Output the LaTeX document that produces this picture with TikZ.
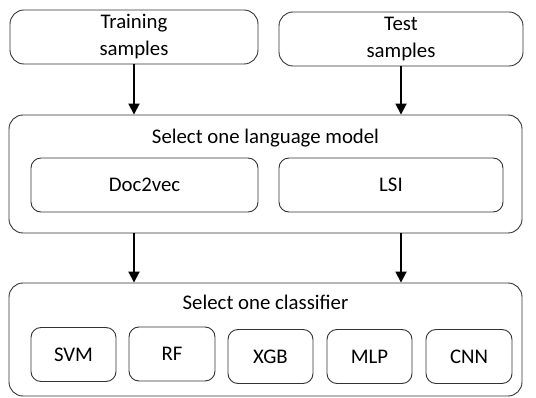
\documentclass[tikz,border=0pt]{standalone}
\usepackage{fontspec}
\setmainfont{Carlito}
\usetikzlibrary{arrows.meta,positioning}

\begin{document}
\begin{tikzpicture}[
  x=1pt,y=-1pt,
  font=\fontsize{20.8}{27}\selectfont,
  line width=0.9pt,
  bigbox/.style={draw=black!80,rounded corners=14pt,inner sep=0pt},
  smallbox/.style={draw=black!80,rounded corners=10pt,inner sep=0pt,minimum height=54pt},
  flow/.style={draw=black,line width=1.8pt,-{Triangle[length=11pt,width=11pt]}}
]
\useasboundingbox (0,0) rectangle (536,398);
% input samples
\node[bigbox,minimum width=248pt,minimum height=54pt,align=center] (train) at (134,37) {Training\\samples};
\node[bigbox,minimum width=244pt,minimum height=54pt,align=center] (test) at (401,39) {Test\\samples};
% language model
\node[bigbox,minimum width=513pt,minimum height=118pt] (lang) at (265.5,174) {};
\node (langtitle) at (265.5,138) {Select one language model};
\node[smallbox,minimum width=227pt] (doc2vec) at (144.5,185) {Doc2vec};
\node[smallbox,minimum width=224pt] (lsi) at (391,185) {LSI};
% classifier
\node[bigbox,minimum width=513pt,minimum height=113pt] (clf) at (265.5,339.5) {};
\node (clftitle) at (265.5,302) {Select one classifier};
\node[smallbox,minimum width=85pt] (svm) at (73.5,354.5) {SVM};
\node[smallbox,minimum width=86pt] (rf) at (172,354) {RF};
\node[smallbox,minimum width=85pt] (xgb) at (270.5,356.5) {XGB};
\node[smallbox,minimum width=85pt] (mlp) at (369.5,356.5) {MLP};
\node[smallbox,minimum width=86pt] (cnn) at (469,356.5) {CNN};
% arrows
\draw[flow] (train.south) -- (train.south |- lang.north);
\draw[flow] (test.south) -- (test.south |- lang.north);
\draw[flow] (train.south |- lang.south) -- (train.south |- clf.north);
\draw[flow] (test.south |- lang.south) -- (test.south |- clf.north);
\end{tikzpicture}
\end{document}
